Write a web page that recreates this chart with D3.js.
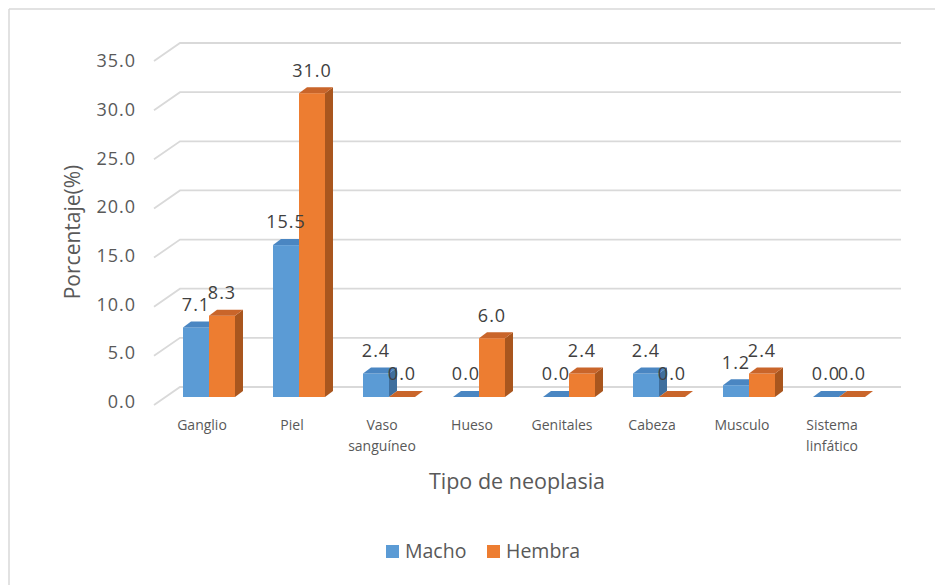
<!DOCTYPE html>
<html><head><meta charset="utf-8">
<script src="https://cdn.jsdelivr.net/npm/d3@7/dist/d3.min.js"></script>
<style>
html,body{margin:0;padding:0;background:#fff;}
svg{display:block;font-family:"Open Sans",sans-serif;}
</style></head>
<body>
<svg id="chart" width="935" height="585"></svg>
<script>
const categories = [["Ganglio"],["Piel"],["Vaso","sanguíneo"],["Hueso"],["Genitales"],["Cabeza"],["Musculo"],["Sistema","linfático"]];
const seriesNames = ["Macho","Hembra"];
const macho  = [7.1, 15.5, 2.4, 0.0, 0.0, 2.4, 1.2, 0.0];
const hembra = [8.3, 31.0, 0.0, 6.0, 2.4, 0.0, 2.4, 0.0];
const yTicks = [0,5,10,15,20,25,30,35];
const yTitle = "Porcentaje(%)";
const xTitle = "Tipo de neoplasia";

const frontCol = ["#5B9BD5","#ED7D31"];
const topCol   = ["#4A86C2","#C9652A"];
const sideCol  = ["#3F6F9E","#A9561E"];

const svg = d3.select("#chart");
const idx = d3.range(categories.length);

// scales
const x = d3.scaleBand().domain(idx).range([157, 877]).padding(0);
const xs = d3.scaleBand().domain([0,1]).range([0, 52]);
const yLab = d3.scaleLinear().domain([0,35]).range([401.5, 61]);
const yBar = d3.scaleLinear().domain([0,35]).range([397, 54]);
const yBack = d3.scaleLinear().domain([0,35]).range([387, 43]);
const dxW = 26, dyW = -18; // side wall depth
const dxB = 8, dyB = -6;   // bar depth

// frame
svg.append("line").attr("x1",9).attr("y1",9).attr("x2",935).attr("y2",9).attr("stroke","#d9d9d9").attr("stroke-width",1.5);
svg.append("line").attr("x1",9).attr("y1",9).attr("x2",9).attr("y2",585).attr("stroke","#d9d9d9").attr("stroke-width",1.5);

// gridlines: back wall + side wall
const g = svg.append("g");
yTicks.forEach(t => {
  const yb = yBack(t);
  g.append("path")
    .attr("d", `M${180-dxW},${yb-dyW} L180,${yb} L901,${yb}`)
    .attr("fill","none").attr("stroke","#d9d9d9").attr("stroke-width",1.8);
});

// y tick labels
svg.append("g").selectAll("text").data(yTicks).join("text")
  .attr("x",136).attr("y",d=>yLab(d)).attr("dy","0.35em")
  .attr("text-anchor","end").attr("font-size",18).attr("letter-spacing",1)
  .attr("fill","#595959").text(d=>d.toFixed(1));

// bars
const bars = svg.append("g");
const labels = [];
idx.forEach(i => {
  [macho[i], hembra[i]].forEach((v, s) => {
    const x0 = x(i) + 7 + (x.bandwidth()-52)/2 + xs(s);
    const w = xs.bandwidth();
    const yt = yBar(v), yb = yBar(0);
    if (v > 0) bars.append("rect").attr("x",x0).attr("y",yt).attr("width",w).attr("height",yb-yt).attr("fill",frontCol[s]);
    bars.append("path").attr("d",`M${x0+w},${yt} L${x0+w+dxB},${yt+dyB} L${x0+w+dxB},${yb+dyB} L${x0+w},${yb}Z`).attr("fill",sideCol[s]);
    bars.append("path").attr("d",`M${x0},${yt} L${x0+dxB},${yt+dyB} L${x0+w+dxB},${yt+dyB} L${x0+w},${yt}Z`).attr("fill",topCol[s]);
    labels.push({x:x0+w/2, y:yt-23, t:v.toFixed(1)});
  });
});
svg.append("g").selectAll("text").data(labels).join("text")
  .attr("x",d=>d.x).attr("y",d=>d.y).attr("dy","0.35em").attr("text-anchor","middle")
  .attr("font-size",18).attr("letter-spacing",1).attr("fill","#404040").text(d=>d.t);

// category labels
const cat = svg.append("g").selectAll("text").data(idx).join("text")
  .attr("x",i=>x(i)+x.bandwidth()/2).attr("y",425)
  .attr("text-anchor","middle").attr("font-size",14).attr("fill","#595959");
cat.each(function(i){
  const t = d3.select(this);
  categories[i].forEach((line,k)=>{
    t.append("tspan").attr("x",x(i)+x.bandwidth()/2).attr("dy", k===0?"0.35em":"21").text(line);
  });
});

// axis titles
svg.append("text").attr("x",517).attr("y",481).attr("dy","0.35em").attr("text-anchor","middle")
  .attr("font-size",21.5).attr("fill","#595959").text(xTitle);
svg.append("text").attr("transform","translate(73,232) rotate(-90)").attr("dy","0.35em").attr("text-anchor","middle")
  .attr("font-size",21).attr("fill","#595959").text(yTitle);

// legend
const leg = svg.append("g");
const legX = [386, 487];
seriesNames.forEach((n,s)=>{
  leg.append("rect").attr("x",legX[s]).attr("y",545).attr("width",13).attr("height",13).attr("fill",frontCol[s]);
  leg.append("text").attr("x",legX[s]+19).attr("y",551.5).attr("dy","0.35em").attr("font-size",19.5)
    .attr("fill","#595959").text(n);
});
</script>
</body></html>
